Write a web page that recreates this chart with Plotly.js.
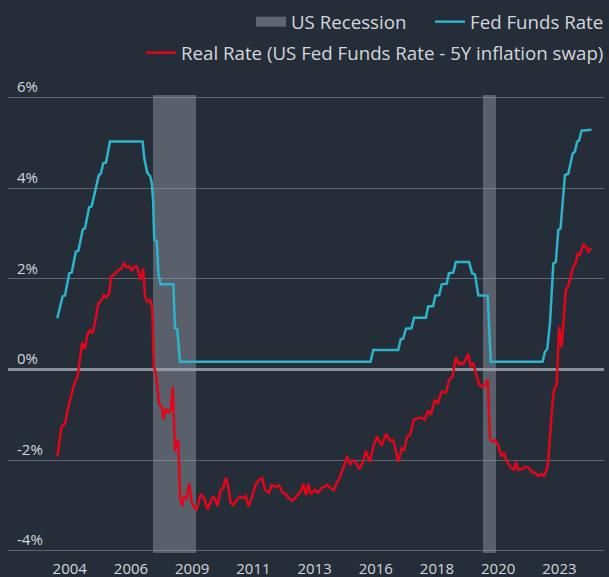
<!DOCTYPE html>
<html><head><meta charset="utf-8">
<script src="https://cdn.plot.ly/plotly-3.0.1.min.js"></script>
<style>html,body{margin:0;padding:0;background:#252d38;}#chart{width:609px;height:577px;}</style>
</head><body><div id="chart"></div>
<script>
// Fed Funds Rate (%), x in decimal years
const fedX = [2004.60,2004.79,2004.88,2005.03,2005.12,2005.27,2005.36,2005.52,2005.60,2005.75,2005.84,2006.02,2006.10,2006.17,2006.26,2006.36,2006.50,2007.68,2007.74,2007.85,2007.95,2008.01,2008.06,2008.10,2008.19,2008.25,2008.33,2008.79,2008.85,2008.93,2009.03,2015.91,2016.01,2016.91,2017.00,2017.09,2017.19,2017.39,2017.48,2017.91,2017.99,2018.17,2018.25,2018.39,2018.48,2018.66,2018.74,2018.90,2018.99,2019.47,2019.58,2019.68,2019.80,2020.14,2020.25,2022.12,2022.21,2022.29,2022.39,2022.51,2022.60,2022.69,2022.77,2022.93,2023.05,2023.21,2023.29,2023.37,2023.44,2023.53,2023.89];
const fedY = [1.13,1.61,1.64,2.12,2.14,2.60,2.62,3.09,3.12,3.58,3.60,4.11,4.29,4.32,4.55,4.57,5.03,5.03,4.66,4.34,4.27,4.11,3.74,2.86,2.84,2.12,1.88,1.88,0.91,0.89,0.17,0.17,0.43,0.43,0.67,0.68,0.90,0.91,1.14,1.14,1.39,1.40,1.63,1.64,1.88,1.89,2.12,2.14,2.37,2.37,2.12,2.10,1.64,1.63,0.17,0.17,0.39,0.45,1.02,2.34,2.37,3.08,3.11,4.29,4.32,4.77,4.81,5.03,5.05,5.27,5.29];

// Real Rate (US Fed Funds Rate - 5Y inflation swap), %
const realX = [2004.60,2004.76,2004.88,2005.00,2005.12,2005.24,2005.32,2005.39,2005.50,2005.60,2005.68,2005.78,2005.88,2006.00,2006.08,2006.20,2006.28,2006.38,2006.48,2006.54,2006.65,2006.77,2006.89,2007.01,2007.10,2007.20,2007.28,2007.37,2007.47,2007.56,2007.62,2007.70,2007.77,2007.85,2007.95,2008.03,2008.09,2008.16,2008.28,2008.37,2008.43,2008.52,2008.61,2008.70,2008.77,2008.85,2008.91,2008.97,2009.03,2009.11,2009.18,2009.27,2009.36,2009.45,2009.54,2009.63,2009.78,2009.90,2010.03,2010.11,2010.21,2010.29,2010.38,2010.50,2010.59,2010.69,2010.77,2010.86,2010.95,2011.08,2011.19,2011.31,2011.41,2011.50,2011.62,2011.77,2011.89,2012.00,2012.10,2012.24,2012.34,2012.49,2012.61,2012.74,2012.86,2012.94,2013.10,2013.24,2013.39,2013.48,2013.58,2013.66,2013.75,2013.90,2014.02,2014.14,2014.35,2014.47,2014.59,2014.69,2014.80,2014.92,2015.07,2015.17,2015.28,2015.38,2015.50,2015.62,2015.74,2015.89,2016.01,2016.15,2016.31,2016.47,2016.61,2016.73,2016.92,2017.03,2017.12,2017.23,2017.33,2017.48,2017.63,2017.75,2017.87,2017.99,2018.09,2018.23,2018.33,2018.48,2018.63,2018.75,2018.87,2018.99,2019.08,2019.16,2019.26,2019.35,2019.44,2019.52,2019.62,2019.71,2019.83,2019.94,2020.04,2020.14,2020.22,2020.30,2020.40,2020.52,2020.64,2020.73,2020.84,2020.97,2021.09,2021.16,2021.24,2021.36,2021.48,2021.60,2021.73,2021.84,2021.96,2022.09,2022.17,2022.27,2022.32,2022.44,2022.53,2022.63,2022.72,2022.81,2022.87,2022.96,2023.05,2023.13,2023.23,2023.31,2023.39,2023.47,2023.59,2023.69,2023.77,2023.89];
const realY = [-1.92,-1.25,-1.20,-0.82,-0.53,-0.27,-0.19,0.10,0.59,0.45,0.76,0.87,0.80,1.17,1.45,1.53,1.64,1.59,1.70,2.05,2.09,2.18,2.21,2.34,2.26,2.28,2.18,2.27,2.27,2.09,1.98,2.23,1.61,1.50,1.53,1.35,0.06,-0.08,-0.78,-0.81,-1.10,-0.86,-0.95,-0.89,-0.38,-1.81,-1.57,-1.59,-2.81,-3.01,-2.81,-2.84,-2.51,-2.92,-3.04,-3.09,-2.75,-2.84,-3.09,-2.95,-2.82,-2.84,-3.01,-2.66,-2.62,-2.39,-2.59,-2.95,-2.99,-2.88,-2.81,-2.84,-2.79,-3.02,-2.84,-2.53,-2.44,-2.40,-2.66,-2.72,-2.55,-2.59,-2.56,-2.72,-2.75,-2.84,-2.90,-2.79,-2.70,-2.53,-2.77,-2.53,-2.75,-2.66,-2.72,-2.62,-2.55,-2.62,-2.66,-2.50,-2.39,-2.18,-1.92,-2.10,-2.01,-2.04,-2.20,-2.07,-1.80,-2.04,-1.70,-1.48,-1.68,-1.42,-1.57,-1.56,-2.04,-1.74,-1.79,-1.48,-1.45,-1.10,-1.08,-1.06,-1.11,-0.91,-1.00,-0.67,-0.76,-0.49,-0.51,-0.23,-0.16,0.27,0.12,0.15,0.12,0.25,0.34,0.06,0.15,-0.08,-0.32,-0.39,-0.34,-0.23,-1.52,-1.59,-1.56,-1.67,-1.92,-1.84,-2.04,-2.15,-2.22,-2.04,-2.22,-2.20,-2.16,-2.16,-2.26,-2.28,-2.35,-2.31,-2.35,-2.22,-2.07,-1.04,-0.45,-0.34,0.94,0.49,1.02,1.75,1.84,2.05,2.27,2.33,2.55,2.53,2.75,2.70,2.60,2.68];

// US recessions (decimal years)
const recessionStart = [2008.05, 2019.97];
const recessionEnd = [2009.60, 2020.43];

// Axis labels
const xTickLabels = ['2004','2006','2009','2011','2013','2016','2018','2020','2023'];
const yTickValues = [-4, -2, 0, 2, 4, 6];
const yTickLabels = ['-4%', '-2%', '0%', '2%', '4%', '6%'];

// ---- layout constants ----
const Y_MIN = -4.05, Y_MAX = 6.72;
const REC_BOTTOM = -4.05, REC_TOP = 6.06;
const X_MIN = 2002.82, X_MAX = 2024.34;
const FIRST_TICK = 2005.05, TICK_STEP = 2.21;
const FONT = '"Open Sans", "Noto Sans", sans-serif';
const TEXT = '#d3d7dc';
const BG = '#252d38';
const REC_COLOR = 'rgba(160,167,178,0.42)';

const recX = recessionStart.map((s, i) => (s + recessionEnd[i]) / 2);
const recW = recessionStart.map((s, i) => recessionEnd[i] - s);
const xTickVals = xTickLabels.map((_, i) => FIRST_TICK + i * TICK_STEP);

const traces = [
  {type: 'bar', x: recX, width: recW, y: recX.map(() => REC_TOP - REC_BOTTOM), base: REC_BOTTOM,
   marker: {color: REC_COLOR, line: {width: 0}}, showlegend: false, hoverinfo: 'skip'},
  {type: 'scatter', mode: 'lines', x: [null], y: [null], name: 'US Recession',
   line: {color: '#5e6672', width: 10}, legend: 'legend', legendwidth: 134},
  {type: 'scatter', mode: 'lines', x: fedX, y: fedY, name: 'Fed Funds Rate',
   line: {color: '#2db3cc', width: 2.5}, legend: 'legend'},
  {type: 'scatter', mode: 'lines', x: realX, y: realY, name: 'Real Rate (US Fed Funds Rate - 5Y inflation swap)',
   line: {color: '#e3061b', width: 2.5}, legend: 'legend2'}
];

const legendBase = {orientation: 'h', xref: 'container', yref: 'container', x: 1, xanchor: 'right',
  yanchor: 'top', bgcolor: 'rgba(0,0,0,0)', font: {family: FONT, size: 18.7, color: TEXT}, traceorder: 'normal'};

const layout = {
  width: 609, height: 577,
  paper_bgcolor: BG, plot_bgcolor: BG,
  margin: {l: 8, r: 5, t: 65, b: 24, autoexpand: false},
  font: {family: FONT, color: TEXT},
  showlegend: true,
  legend: Object.assign({}, legendBase, {y: 1 - 3/577}),
  legend2: Object.assign({}, legendBase, {y: 1 - 34/577}),
  bargap: 0,
  xaxis: {range: [X_MIN, X_MAX], tickmode: 'array', tickvals: xTickVals, ticktext: xTickLabels,
    showgrid: false, zeroline: false, showline: false, ticks: '',
    tickfont: {family: FONT, size: 15, color: TEXT}, ticklabelstandoff: 5},
  yaxis: {range: [Y_MIN, Y_MAX], tickmode: 'array', tickvals: yTickValues, ticktext: yTickLabels,
    showgrid: true, gridcolor: '#5d6570', gridwidth: 1,
    zeroline: true, zerolinecolor: '#8a9099', zerolinewidth: 2.5, showline: false, ticks: '',
    ticklabelposition: 'inside top', ticklabelstandoff: 6,
    tickfont: {family: FONT, size: 15, color: TEXT}}
};

Plotly.newPlot('chart', traces, layout, {displayModeBar: false, staticPlot: true});
</script>
</body></html>
